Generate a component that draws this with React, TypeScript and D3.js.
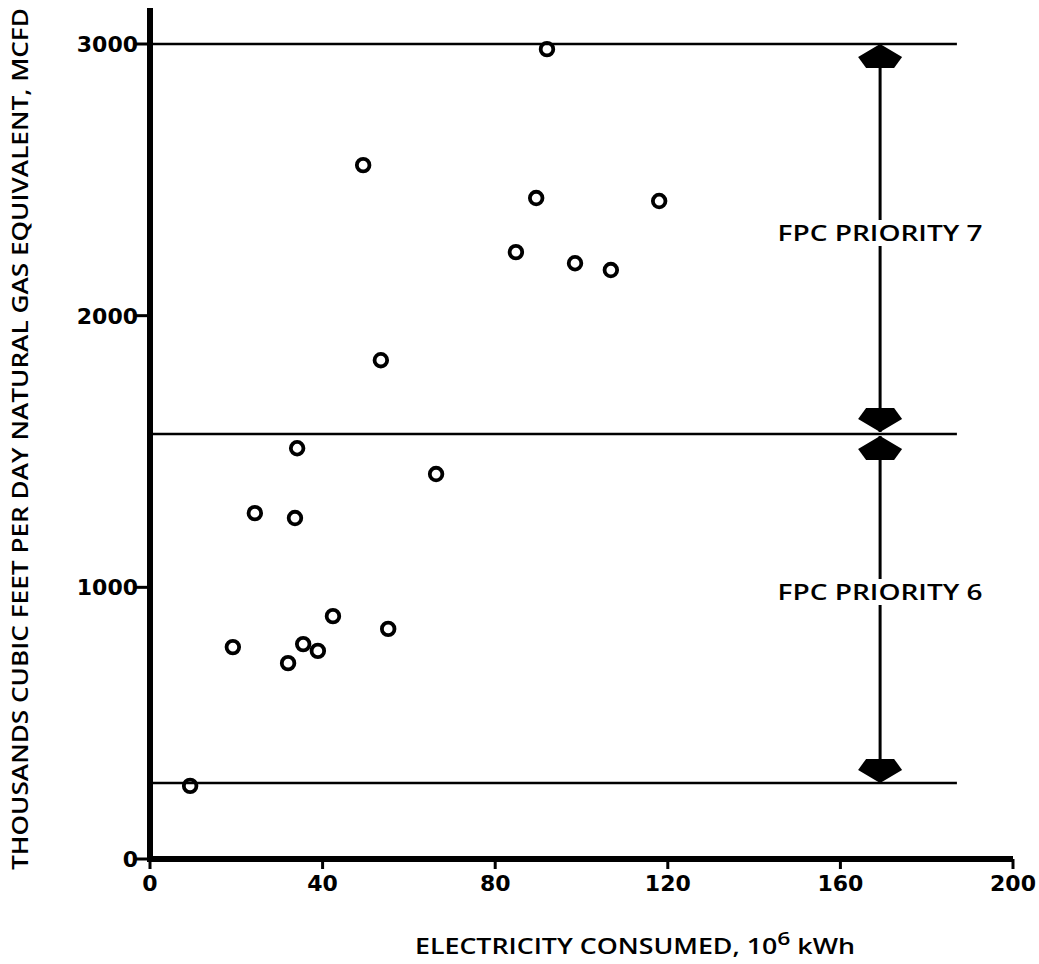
import React from "react";
import * as d3 from "d3";

const electricity = [92.0, 49.4, 89.5, 118.0, 84.8, 98.5, 106.8, 53.5, 34.1, 66.3, 24.3, 33.6, 42.4, 55.2, 19.2, 35.5, 38.9, 32.0, 9.3];
const gasEquiv = [2981, 2554, 2433, 2422, 2234, 2193, 2168, 1836, 1512, 1417, 1273, 1255, 894, 847, 780, 791, 766, 721, 269];

const xTicks = [0, 40, 80, 120, 160, 200];
const yTicks = [0, 1000, 2000, 3000];

const priorityBounds = [3000, 1564, 280];
const priorityLabels = ["FPC PRIORITY 7", "FPC PRIORITY 6"];
const arrowX = 169.2;
const boundEnd = 187;

const width = 1039;
const height = 964;
const font = "'Open Sans', 'DejaVu Sans', sans-serif";
const tickFont = "'DejaVu Sans', sans-serif";

const arrowHead = (cx: number, tipY: number, dir: number) => {
  // dir = 1 points down, -1 points up
  const pts: [number, number][] = [
    [0, 0],
    [-22, -13],
    [-14, -24],
    [14, -24],
    [22, -13],
  ];
  return d3.line()(pts.map(([dx, dy]) => [cx + dx, tipY + dy * dir])) + "Z";
};

const App = () => {
  const x = d3.scaleLinear().domain([0, 200]).range([150, 1013]);
  const y = d3.scaleLinear().domain([0, 3000]).range([859, 44]);

  const points = electricity.map((e, i) => ({ e, g: gasEquiv[i] }));
  const ax = x(arrowX);

  return (
    <svg
      width={width}
      height={height}
      style={{ position: "absolute", left: 0, top: 0, background: "#fff" }}
      fontFamily={font}
      fontWeight={600}
    >
      {/* priority boundary lines */}
      {priorityBounds.map((b) => (
        <line key={b} x1={x(0)} x2={x(boundEnd)} y1={y(b)} y2={y(b)} stroke="#000" strokeWidth={2.5} />
      ))}

      {/* double arrows between bounds */}
      {priorityLabels.map((lab, i) => {
        const top = y(priorityBounds[i]);
        const bot = y(priorityBounds[i + 1]);
        const t = top + (i === 0 ? 0 : 2);
        const b = bot - (i === 0 ? 2 : 0);
        return (
          <g key={lab}>
            <line x1={ax} x2={ax} y1={t} y2={b} stroke="#000" strokeWidth={3} />
            <path d={arrowHead(ax, t, -1)} fill="#000" />
            <path d={arrowHead(ax, b, 1)} fill="#000" />
          </g>
        );
      })}
      {priorityLabels.map((lab, i) => {
        const mid = i === 0 ? 233 : 592;
        return (
          <g key={lab + "t"}>
            <rect x={ax - 104} y={mid - 13} width={208} height={26} fill="#fff" />
            <text x={ax} y={mid + 8} textAnchor="middle" fontSize={21} textLength={205} lengthAdjust="spacingAndGlyphs">
              {lab}
            </text>
          </g>
        );
      })}

      {/* axes */}
      <line x1={x(0)} x2={x(0)} y1={8} y2={y(0) + 3} stroke="#000" strokeWidth={6} />
      <line x1={x(0) - 3} x2={x(200)} y1={y(0)} y2={y(0)} stroke="#000" strokeWidth={6} />
      {xTicks.map((t) => (
        <g key={t}>
          <line x1={x(t)} x2={x(t)} y1={y(0)} y2={y(0) + 10} stroke="#000" strokeWidth={3} />
          <text x={x(t)} y={y(0) + 32} textAnchor="middle" fontSize={22} fontFamily={tickFont} fontWeight="bold">
            {t}
          </text>
        </g>
      ))}
      {yTicks.map((t) => (
        <g key={t}>
          <line x1={x(0) - 14} x2={x(0)} y1={y(t)} y2={y(t)} stroke="#000" strokeWidth={3} />
          <text x={x(0) - 12} y={y(t) + 8} textAnchor="end" fontSize={22} fontFamily={tickFont} fontWeight="bold">
            {t}
          </text>
        </g>
      ))}

      {/* data */}
      {points.map((p, i) => (
        <circle key={i} cx={x(p.e)} cy={y(p.g)} r={6.3} fill="none" stroke="#000" strokeWidth={3.8} />
      ))}

      {/* titles */}
      <text x={415} y={954} fontSize={21} textLength={440} lengthAdjust="spacingAndGlyphs">
        ELECTRICITY CONSUMED, 10<tspan dy={-9} fontSize={18}>6</tspan>
        <tspan dy={9}> kWh</tspan>
      </text>
      <text
        transform={`translate(28, 870) rotate(-90)`}
        x={0}
        y={0}
        fontSize={22}
        textLength={862}
        lengthAdjust="spacingAndGlyphs"
      >
        THOUSANDS CUBIC FEET PER DAY NATURAL GAS EQUIVALENT, MCFD
      </text>
    </svg>
  );
};

export default App;
